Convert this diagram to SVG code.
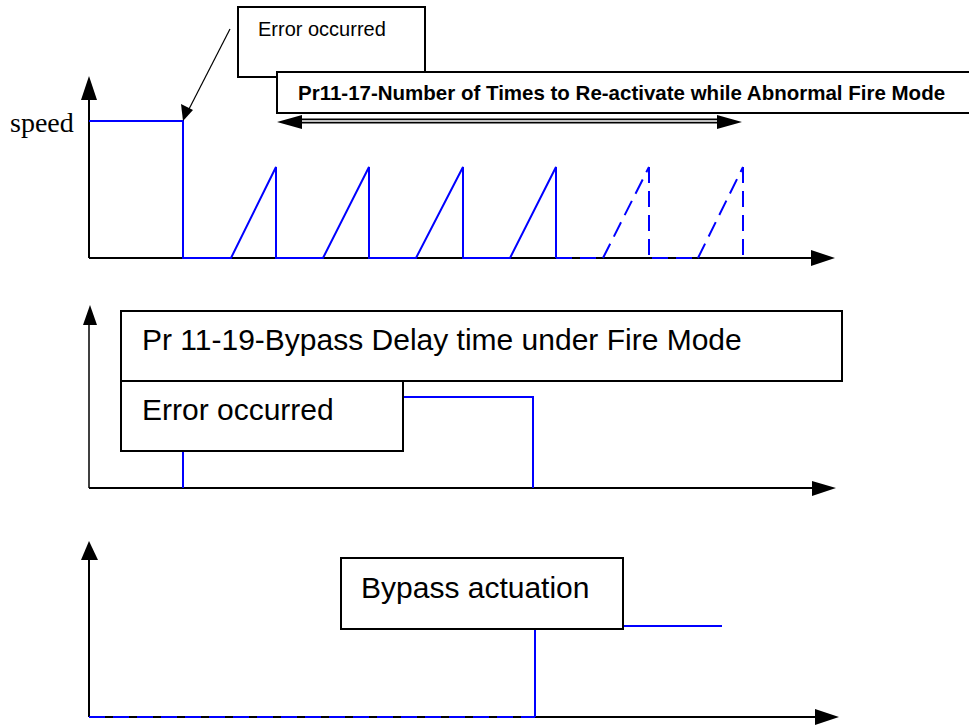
<svg xmlns="http://www.w3.org/2000/svg" width="969" height="725" viewBox="0 0 969 725">
<style>
.ax{stroke:#000;stroke-width:2;fill:none}
.ah{fill:#000;stroke:none}
.bl{stroke:#0000FF;stroke-width:2;fill:none}
.bd{stroke:#0000FF;stroke-width:2;fill:none;stroke-dasharray:16 8}
.box{fill:#fff;stroke:#000;stroke-width:2}
.t{font-family:"Liberation Sans",Arial,sans-serif;fill:#000}
</style>
<rect width="969" height="725" fill="#fff"/>
<g id="connectors">
  <!-- top graph axes -->
  <line class="ax" x1="89" y1="258" x2="89" y2="98"/>
  <polygon class="ah" points="89,76 81,100 97,100"/>
  <line class="ax" x1="89" y1="258" x2="813" y2="258"/>
  <polygon class="ah" points="835,258 811,250 811,266"/>
  <!-- top graph signal -->
  <path class="bl" d="M89,121 H183 V258 H231 L276,167 V258 H323 L369,167 V258 H416 L463,167 V258 H510 L556,167 V258"/>
  <path class="bd" d="M556,258 H603"/>
  <path class="bd" d="M603,258 L649,167"/>
  <path class="bd" d="M649,167 V258"/>
  <path class="bd" d="M652,258 H698"/>
  <path class="bd" d="M698,258 L743,167"/>
  <path class="bd" d="M743,167 V258"/>
  <!-- leader arrow -->
  <line x1="230" y1="29" x2="188" y2="111" stroke="#000" stroke-width="1.2"/>
  <polygon class="ah" points="183,121 181,104 193,110"/>
  <!-- double-headed span arrow -->
  <line x1="298" y1="121" x2="722" y2="121" stroke="#000" stroke-width="5"/>
  <line x1="298" y1="121" x2="722" y2="121" stroke="#fff" stroke-width="1.6"/>
  <polygon class="ah" points="277,122 302,115 302,129"/>
  <polygon class="ah" points="742,122 717,115 717,129"/>
  <!-- middle graph axes -->
  <line x1="89" y1="488" x2="89" y2="322" stroke="#000" stroke-width="1.5"/>
  <polygon class="ah" points="90,305 83,325 97,325"/>
  <line class="ax" x1="89" y1="488" x2="814" y2="488"/>
  <polygon class="ah" points="836,488 812,481 812,496"/>
  <path class="bl" d="M183,488 V397 H533 V488"/>
  <!-- bottom graph axes -->
  <line class="ax" x1="89" y1="717" x2="89" y2="557"/>
  <polygon class="ah" points="89,541 81,560 98,560"/>
  <line class="ax" x1="89" y1="717" x2="817" y2="717"/>
  <polygon class="ah" points="839,717 815,709 815,725"/>
  <path class="bd" d="M89,717 H535"/>
  <path class="bl" d="M535,717 V626 H722"/>
</g>
<g id="speed-label">
  <text x="10" y="132" font-family="'Liberation Serif','Times New Roman',serif" font-size="28" fill="#000">speed</text>
</g>
<g id="error-top">
  <rect class="box" x="238" y="7" width="187" height="70"/>
  <text class="t" x="258" y="36" font-size="20">Error occurred</text>
</g>
<g id="pr1117">
  <rect class="box" x="277" y="72" width="720" height="41"/>
  <text class="t" x="298" y="100" font-size="20.5" font-weight="bold">Pr11-17-Number of Times to Re-activate while Abnormal Fire Mode</text>
</g>
<g id="pr1119">
  <rect class="box" x="121" y="311" width="721" height="70"/>
  <text class="t" x="142" y="350" font-size="30">Pr 11-19-Bypass Delay time under Fire Mode</text>
</g>
<g id="error-mid">
  <rect class="box" x="121" y="381" width="282" height="70"/>
  <text class="t" x="142" y="420" font-size="30">Error occurred</text>
</g>
<g id="bypass">
  <rect class="box" x="341" y="558" width="282" height="71"/>
  <text class="t" x="361" y="598" font-size="30">Bypass actuation</text>
</g>
</svg>
